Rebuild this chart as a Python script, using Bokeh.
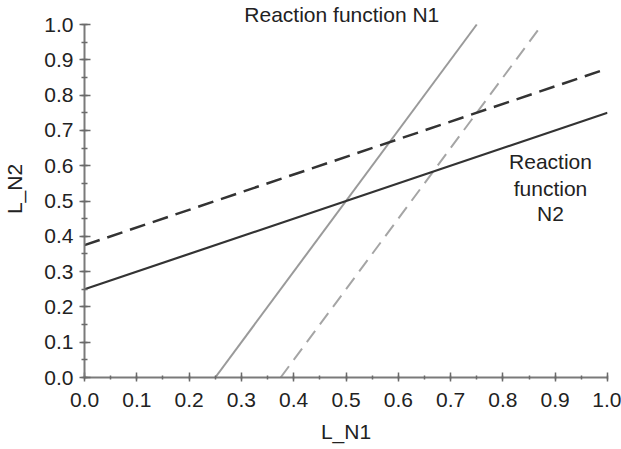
from bokeh.plotting import figure
from bokeh.models import Range1d, SingleIntervalTicker, NumeralTickFormatter, Label
from bokeh.embed import file_html
from bokeh.resources import INLINE

# Data: reaction functions (line endpoints)
n2_x = [0.0, 1.0]
n2_y = [0.25, 0.75]
n2_shift_x = [0.0, 1.0]
n2_shift_y = [0.375, 0.875]
n1_x = [0.25, 0.75]
n1_y = [0.0, 1.0]
n1_shift_x = [0.375, 0.875]
n1_shift_y = [0.0, 1.0]

FONT = "Liberation Sans"
FS = "21px"

# frame: data box 0..1 spans x 83..607, y 24..377; frame extends to top for the title
Y_TOP = 1 + 24 / 353

p = figure(width=621, height=449, output_backend="svg", toolbar_location=None,
           x_range=Range1d(0, 1), y_range=Range1d(0, Y_TOP),
           min_border_left=83, min_border_right=14, min_border_top=0, min_border_bottom=72)
p.outline_line_color = None
p.xgrid.visible = False
p.ygrid.visible = False
p.background_fill_color = "white"
p.border_fill_color = "white"

p.line(n1_x, n1_y, line_color="#9a9a9a", line_width=2)
p.line(n1_shift_x, n1_shift_y, line_color="#a5a5a5", line_width=2, line_dash="14 8")
p.line(n2_x, n2_y, line_color="#333333", line_width=2.2)
p.line(n2_shift_x, n2_shift_y, line_color="#333333", line_width=2.5, line_dash="16 8")

for ax in (p.xaxis[0], p.yaxis[0]):
    ax.ticker = SingleIntervalTicker(interval=0.1, num_minor_ticks=2)
    ax.formatter = NumeralTickFormatter(format="0.0")
    ax.bounds = (0, 1)
    ax.axis_line_color = "#7a7a7a"
    ax.axis_line_width = 2
    ax.major_tick_line_color = "#6a6a6a"
    ax.minor_tick_line_color = "#6a6a6a"
    ax.major_tick_line_width = 1.5
    ax.minor_tick_line_width = 1.5
    ax.major_tick_out = 5
    ax.major_tick_in = 6
    ax.minor_tick_out = 3
    ax.minor_tick_in = 3
    ax.major_label_text_font = FONT
    ax.major_label_text_font_size = FS
    ax.major_label_text_color = "#222222"
    ax.axis_label_text_font = FONT
    ax.axis_label_text_font_size = FS
    ax.axis_label_text_font_style = "normal"
    ax.axis_label_text_color = "#222222"

p.xaxis[0].axis_label = "L_N1"
p.yaxis[0].axis_label = "L_N2"
p.xaxis[0].major_tick_out = 4
p.xaxis[0].major_tick_in = 5
p.xaxis[0].minor_tick_out = 2
p.xaxis[0].minor_tick_in = 2
p.xaxis[0].major_label_standoff = 11
p.yaxis[0].major_label_standoff = 6
p.xaxis[0].axis_label_standoff = 10
p.yaxis[0].axis_label_standoff = 15

p.add_layout(Label(x=0.492, y=1.027, text="Reaction function N1", text_align="center",
                   text_baseline="middle", text_font=FONT, text_font_size=FS,
                   text_color="#222222"))
n2_label_lines = ["Reaction", "function", "N2"]
n2_label_y = [0.612, 0.535, 0.465]
for t, yy in zip(n2_label_lines, n2_label_y):
    p.add_layout(Label(x=0.891, y=yy, text=t, text_align="center",
                       text_baseline="middle", text_font=FONT, text_font_size=FS,
                       text_color="#222222"))

open("out.html", "w").write(file_html(p, INLINE))
